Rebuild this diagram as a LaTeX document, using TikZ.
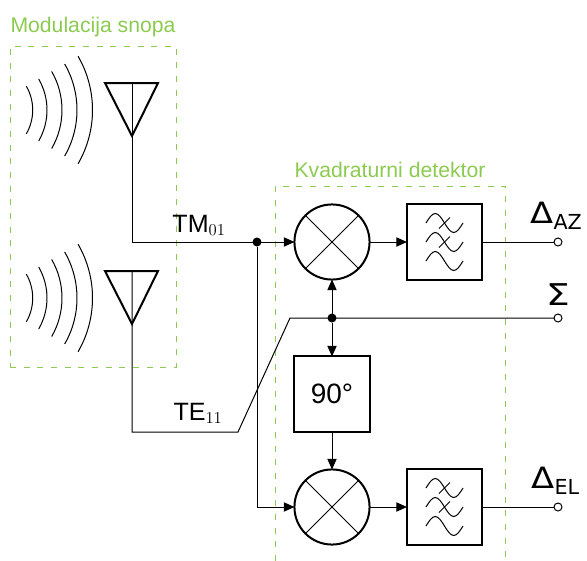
\documentclass[tikz,border=0pt]{standalone}
\usepackage[no-math]{fontspec}
\setmainfont{Liberation Sans}
\newfontfamily\dejavu{DejaVu Sans}
\newfontfamily\lmroman{Latin Modern Roman}
\usetikzlibrary{arrows.meta}
\definecolor{GroupGreen}{HTML}{8CCB50}
\newcommand{\portsub}[1]{\raisebox{-2.5pt}{\lmroman\fontsize{12.5}{15}\selectfont #1}}
\tikzset{
    mixernode/.style={circle, draw, line width=1.5pt, outer sep=0pt, inner sep=0pt, minimum size=1.98cm, path picture={
        \draw[line width=0.75pt] (path picture bounding box.north west) -- (path picture bounding box.south east);
        \draw[line width=0.75pt] (path picture bounding box.north east) -- (path picture bounding box.south west);}},
    blocknode/.style={draw, line width=1.5pt, outer sep=0pt, inner sep=0pt, minimum size=1.98cm, font=\fontsize{21}{25}\selectfont},
    termnode/.style={circle, draw, fill=white, outer sep=0pt, inner sep=0pt, minimum size=6pt},
    dotnode/.style={circle, fill=black, outer sep=0pt, inner sep=0pt, minimum size=6.75pt},
    grouplabel/.style={text=GroupGreen, font=\fontsize{15.9}{19}\selectfont},
    grouplines/.style={draw=GroupGreen, line width=0.75pt, dash pattern=on 4.5pt off 5.75pt},
    sigarrow/.style={-{Triangle[length=8pt,width=7pt]}},
    portlabel/.style={anchor=base west, inner sep=0pt, font=\fontsize{18.8}{22}\selectfont},
    filterwaves/.pic={
        \foreach \yy in {-19,0,19} {
            \draw (-18.5,\yy) sin (-9.25,\yy-9.5) cos (0,\yy) sin (9.25,\yy+9.5) cos (18.5,\yy);
        }
        \foreach \yy in {-19,0} {
            \draw (-5.5,\yy+5.5) -- (5.5,\yy-5.5);
        }
    },
    hornpic/.pic={
        \foreach \rr in {47.7,62,77,92,107.5} {
            \draw (-147,27) ++(-30:\rr) arc[start angle=-30, end angle=30, radius=\rr];
        }
        \draw[line width=1.5pt, line join=miter] (-27,0) -- (26,0) -- (0,53) -- cycle;
    }
}
\begin{document}
\begin{tikzpicture}[x=0.75pt, y=-0.75pt, line width=0.75pt]
    \useasboundingbox (0,0) rectangle (587,561);
    % dashed groups
    \node[grouplines, draw, minimum width=124.5pt, minimum height=240.75pt, inner sep=0pt] (modbox) at (93,206.5) {};
    \node[grouplabel] (modlabel) at (93,27) {Modulacija snopa};
    \coordinate (detbl) at (275,561);
    \coordinate (detbr) at (505,561);
    \draw[grouplines] (detbl) |- (505,186) -- (detbr);
    \node[grouplabel] (detlabel) at (390,170) {Kvadraturni detektor};

    \pic at (132,83) {hornpic};
    \pic at (132,271) {hornpic};
    \coordinate (hornone) at (132,83);
    \coordinate (horntwo) at (132,271);

    \node[mixernode] (mixaz) at (332,242) {};
    \node[mixernode] (mixel) at (332,507) {};
    \node[blocknode] (fltaz) at (444.5,242) {};
    \node[blocknode] (fltel) at (444.5,507) {};
    \pic at (444.5,242) {filterwaves};
    \pic at (444.5,507) {filterwaves};
    \node[blocknode] (shift) at (332,394) {90°};
    \node[dotnode] (tmdot) at (257,242) {};
    \node[dotnode] (sumdot) at (332,318) {};
    \node[termnode] (termaz) at (558,242) {};
    \node[termnode] (termsum) at (558,318) {};
    \node[termnode] (termel) at (558,507) {};
    \coordinate (teleft) at (238,432);
    \coordinate (teright) at (290,318);

    \draw[sigarrow] (hornone) |- (mixaz);
    \draw[sigarrow] (tmdot) |- (mixel);
    \draw (horntwo) |- (teleft) -- (teright) -- (termsum);
    \draw[sigarrow] (sumdot) -- (mixaz);
    \draw[sigarrow] (sumdot) -- (shift);
    \draw[sigarrow] (shift) -- (mixel);
    \draw[sigarrow] (mixaz) -- (fltaz);
    \draw[sigarrow] (mixel) -- (fltel);
    \draw (fltaz) -- (termaz);
    \draw (fltel) -- (termel);

    \node[portlabel] (tmlabel) at (172,232) {TM\portsub{01}};
    \node[portlabel] (telabel) at (173,420) {TE\portsub{11}};
    \node[anchor=base west, inner sep=0pt] (azlabel) at (530,223) {\dejavu\fontsize{22}{26}\selectfont\scalebox{1.15}[1]{Δ}\raisebox{-4.5pt}{\fontsize{15.5}{18}\selectfont AZ}};
    \node[anchor=base west, inner sep=0pt] (ellabel) at (531,488) {\dejavu\fontsize{22}{26}\selectfont\scalebox{1.15}[1]{Δ}\raisebox{-4.5pt}{\fontsize{15.5}{18}\selectfont EL}};
    \node[anchor=base, inner sep=0pt] (sumlabel) at (558,305) {\dejavu\fontsize{22.5}{26}\selectfont\scalebox{1.25}[1]{Σ}};
\end{tikzpicture}
\end{document}
